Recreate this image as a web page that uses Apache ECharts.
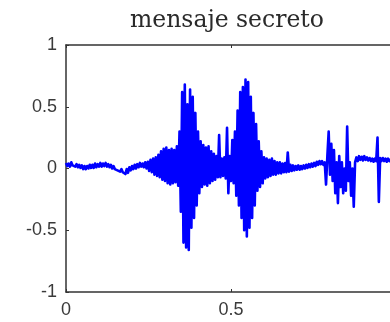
<!DOCTYPE html>
<html>
<head>
<meta charset="utf-8">
<script src="https://cdn.jsdelivr.net/npm/echarts@6/dist/echarts.min.js"></script>
<style>
  html, body { margin: 0; padding: 0; background: #fff; }
  #chart { width: 390px; height: 322px; }
</style>
</head>
<body>
<div id="chart"></div>
<script>
const titleText = 'mensaje secreto'
const xTicks = [0, 0.5, 1]
const yTicks = [-1, -0.5, 0, 0.5, 1]
// one sample every 0.004 s, amplitude
const sampleStep = 0.004
const ampValues = [
  0.045, 0.02, 0.04, 0.015, 0.05, 0.025, 0.04, 0.015, 0.035, 0.01,
  0.03, 0.005, 0.025, -0.005, 0.02, -0.005, 0.02, 0.0, 0.03, 0.005,
  0.03, 0.005, 0.04, 0.01, 0.035, 0.015, 0.045, 0.015, 0.04, 0.02,
  0.045, 0.015, 0.035, 0.01, 0.03, 0.0, 0.02, -0.005, 0.01, -0.015,
  0.0, -0.025, -0.005, -0.03, -0.015, -0.045, -0.005, -0.035, 0.01, -0.015,
  0.02, -0.005, 0.03, 0.0, 0.035, 0.01, 0.045, 0.015, 0.04, 0.01,
  0.05, 0.0, 0.055, -0.02, 0.07, -0.03, 0.08, -0.05, 0.09, -0.06,
  0.11, -0.07, 0.14, -0.09, 0.16, -0.1, 0.17, -0.12, 0.15, -0.13,
  0.16, -0.12, 0.15, -0.11, 0.18, -0.14, 0.3, -0.35, 0.62, -0.6,
  0.68, -0.64, 0.52, -0.66, 0.64, -0.48, 0.58, -0.4, 0.45, -0.3,
  0.3, -0.2, 0.22, -0.15, 0.19, -0.13, 0.17, -0.14, 0.18, -0.12,
  0.14, -0.1, 0.12, -0.09, 0.1, -0.07, 0.27, -0.07, 0.08, -0.06,
  0.09, -0.08, 0.33, -0.2, 0.1, -0.1, 0.23, -0.12, 0.3, -0.22,
  0.47, -0.3, 0.62, -0.4, 0.66, -0.5, 0.72, -0.55, 0.7, -0.48,
  0.58, -0.4, 0.45, -0.3, 0.36, -0.18, 0.22, -0.15, 0.14, -0.12,
  0.09, -0.08, 0.08, -0.07, 0.07, -0.06, 0.08, -0.05, 0.06, -0.05,
  0.05, -0.04, 0.05, -0.04, 0.04, -0.03, 0.045, -0.03, 0.13, -0.025,
  0.03, -0.02, 0.025, -0.015, 0.02, -0.01, 0.025, -0.01, 0.02, -0.005,
  0.025, 0.0, 0.03, 0.005, 0.035, 0.01, 0.04, 0.015, 0.045, 0.02,
  0.055, 0.03, 0.06, 0.035, 0.06, 0.03, 0.05, -0.13, 0.1, 0.3,
  -0.05, 0.2, -0.1, 0.15, -0.2, 0.05, -0.28, 0.1, -0.15, 0.05,
  -0.2, 0.0, -0.18, 0.34, -0.1, 0.05, -0.22, 0.0, -0.31, 0.05,
  0.09, 0.06, 0.1, 0.07, 0.095, 0.065, 0.1, 0.07, 0.09, 0.065,
  0.085, 0.06, 0.08, 0.055, 0.08, 0.06, 0.25, -0.27, 0.085, 0.06,
  0.085, 0.06, 0.08, 0.055, 0.08, 0.06, 0.075
]

const chart = echarts.init(document.getElementById('chart'), null, { renderer: 'canvas' })
const points = ampValues.map((v, i) => [i * sampleStep, v])

const labelStyle = { color: '#3a3a3a', fontSize: 18, fontFamily: 'Liberation Sans, Arial, sans-serif' }
const frame = { show: true, onZero: false, lineStyle: { color: '#333', width: 1.5 } }
const ticks = { show: true, inside: true, length: 3, lineStyle: { color: '#333' } }

const option = {
  animation: false,
  backgroundColor: '#fff',
  title: {
    text: titleText,
    left: 125,
    top: 4,
    textStyle: { color: '#2a2a2a', fontSize: 23.5, fontWeight: 'normal', fontFamily: 'DejaVu Serif, serif' }
  },
  grid: { left: 66, top: 45, width: 330, height: 247, outerBoundsMode: 'none', containLabel: false },
  xAxis: [
    {
      type: 'value', min: xTicks[0], max: xTicks[xTicks.length - 1], interval: 0.5,
      axisLine: frame, axisTick: ticks,
      axisLabel: { ...labelStyle, margin: 9, formatter: v => String(v) },
      splitLine: { show: false }
    },
    {
      type: 'value', position: 'top', min: xTicks[0], max: xTicks[xTicks.length - 1], interval: 0.5,
      axisLine: frame, axisTick: ticks,
      axisLabel: { show: false }, splitLine: { show: false }
    }
  ],
  yAxis: {
    type: 'value', min: yTicks[0], max: yTicks[yTicks.length - 1], interval: 0.5,
    axisLine: frame, axisTick: ticks,
    axisLabel: { ...labelStyle, margin: 9, formatter: v => String(v) },
    splitLine: { show: false }
  },
  series: [{
    type: 'line',
    data: points,
    showSymbol: false,
    sampling: false,
    lineStyle: { color: '#0000ff', width: 2.6, join: 'round' },
    itemStyle: { color: '#0000ff' }
  }]
}
chart.setOption(option)
</script>
</body>
</html>
